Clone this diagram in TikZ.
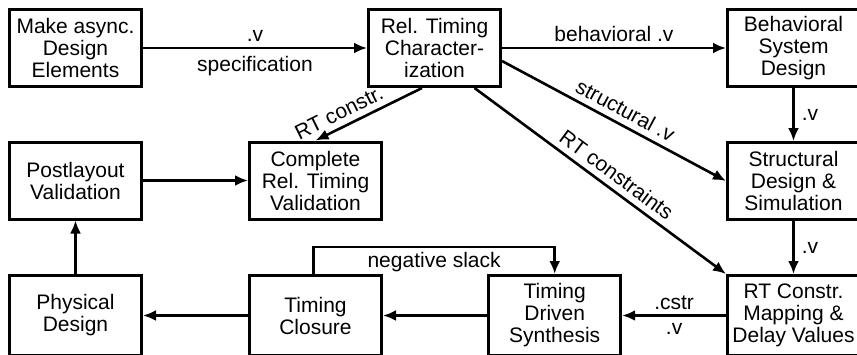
\documentclass[tikz,border=0pt]{standalone}
\usepackage{fontspec}
\setmainfont{Liberation Sans}
\usetikzlibrary{arrows.meta,calc}
\begin{document}
\begin{tikzpicture}[x=1pt,y=-1pt,
  every node/.style={font=\fontsize{21}{22}\selectfont},
  box/.style={draw, line width=3pt, minimum width=132pt, minimum height=77pt, inner sep=0pt, align=center},
  tallbox/.style={box, minimum height=80pt},
  conn/.style={line width=2.6pt, -{Latex[length=13pt,width=11pt]}},
  lbl/.style={inner sep=5pt}]
\clip (0,0) rectangle (857,354);
\useasboundingbox (0,0) rectangle (857,354);
\node[box] (make) at (75.5,48) {Make async.\\Design\\Elements};
\node[box] (rel) at (434.5,48) {Rel. Timing\\Character-\\ization};
\node[box] (beh) at (793.5,48) {Behavioral\\System\\Design};
\node[box] (pv) at (75.5,180.5) {Postlayout\\Validation};
\node[box] (crv) at (315.5,180.5) {Complete\\Rel. Timing\\Validation};
\node[box] (str) at (793.5,181) {Structural\\Design \&\\Simulation};
\node[tallbox] (pd) at (75.5,315.5) {Physical\\Design};
\node[tallbox] (tc) at (315.5,315.5) {Timing\\Closure};
\node[tallbox] (tds) at (554.7,315.5) {Timing\\Driven\\Synthesis};
\node[tallbox] (rtc) at (793.5,315.5) {RT Constr.\\Mapping \&\\Delay Values};
\coordinate (relrc) at ($(rel.south)+(-12.5,0)$);
\coordinate (relrs) at ($(rel.east)+(0,13)$);
\coordinate (relrt) at ($(rel.south)+(40,0)$);
\coordinate (tcn) at ($(tc.north)+(-2,0)$);
\coordinate (loopa) at ($(tcn)+(0,-27)$);
\coordinate (loopb) at (loopa -| tds.north);
\draw[conn] (make) -- node[lbl,above]{.v} node[lbl,below,inner sep=6.5pt]{specification} (rel);
\draw[conn] (rel) -- node[lbl,above]{behavioral .v} (beh);
\draw[conn] (relrc) -- node[lbl,sloped,above,pos=0.72,inner sep=6pt]{RT constr.} (crv.north);
\draw[conn] (relrs) -- node[lbl,sloped,above,pos=0.52,inner sep=6pt]{structural .v} (str.west);
\draw[conn] (relrt) -- node[lbl,sloped,above,pos=0.53,inner sep=6pt]{RT constraints} (rtc.north west);
\draw[conn] (beh) -- node[lbl,right,inner sep=7pt]{.v} (str);
\draw[conn] (str) -- node[lbl,right,inner sep=7pt]{.v} (rtc);
\draw[conn] (rtc) -- node[lbl,above,inner sep=4.5pt]{.cstr} node[lbl,below,inner sep=7pt]{.v} (tds);
\draw[conn] (tds) -- (tc);
\draw[conn] (tc) -- (pd);
\draw[conn] (pd) -- (pv);
\draw[conn] (pv) -- (crv);
\draw[conn] (tcn) -- (loopa) -- node[lbl,below,inner sep=3.5pt]{negative slack} (loopb) -- (tds.north);
\end{tikzpicture}
\end{document}
